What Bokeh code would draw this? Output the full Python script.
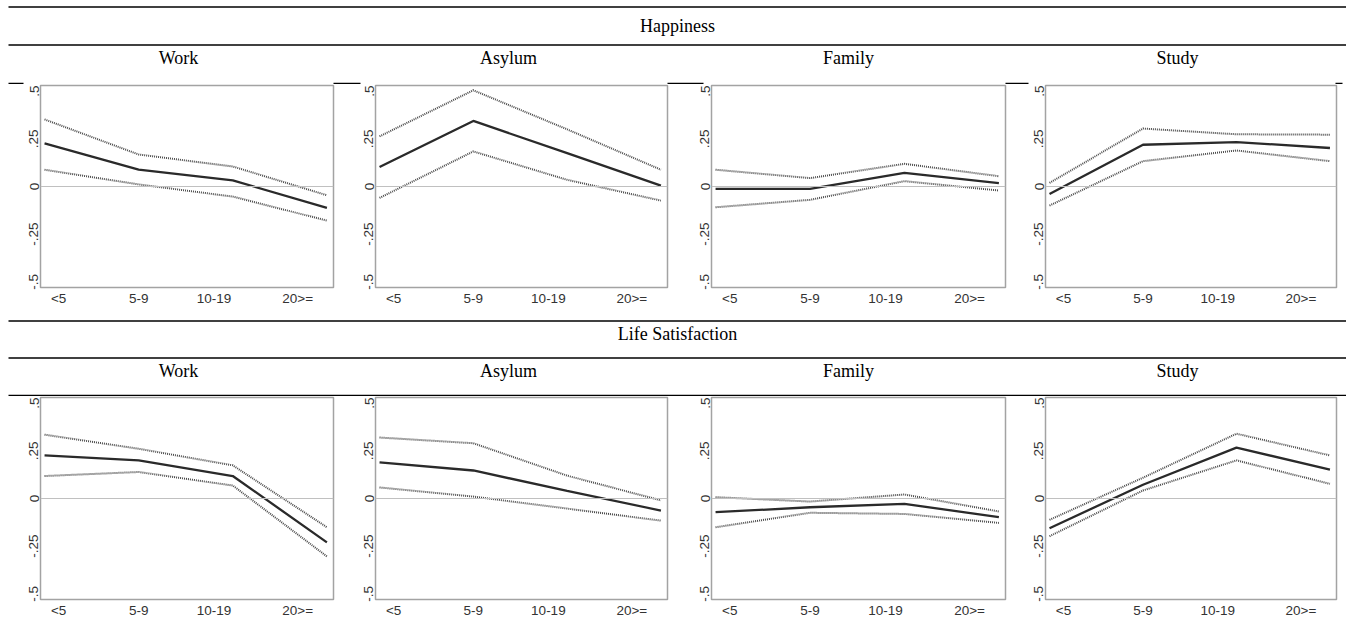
from bokeh.plotting import figure
from bokeh.layouts import column, row
from bokeh.models import Range1d, FixedTicker, Span
from bokeh.core.properties import value
from bokeh.embed import file_html
from bokeh.resources import INLINE

# ---------------- data ----------------
categories = ["<5", "5-9", "10-19", "20>="]
groups = ["Work", "Asylum", "Family", "Study"]
outcomes = ["Happiness", "Life Satisfaction"]
y_ticks = [-0.5, -0.25, 0, 0.25, 0.5]
y_tick_labels = ["-.5", "-.25", "0", ".25", ".5"]

# Happiness
hap_work_est = [0.226, 0.088, 0.032, -0.112]
hap_work_hi = [0.352, 0.168, 0.105, -0.046]
hap_work_lo = [0.088, 0.011, -0.053, -0.179]
hap_asylum_est = [0.102, 0.344, 0.175, 0.005]
hap_asylum_hi = [0.263, 0.505, 0.300, 0.088]
hap_asylum_lo = [-0.060, 0.184, 0.035, -0.074]
hap_family_est = [-0.012, -0.012, 0.072, 0.018]
hap_family_hi = [0.088, 0.044, 0.119, 0.054]
hap_family_lo = [-0.109, -0.070, 0.028, -0.021]
hap_study_est = [-0.039, 0.219, 0.233, 0.202]
hap_study_hi = [0.019, 0.304, 0.274, 0.272]
hap_study_lo = [-0.100, 0.133, 0.189, 0.133]

# Life satisfaction
ls_work_est = [0.226, 0.200, 0.118, -0.230]
ls_work_hi = [0.335, 0.261, 0.174, -0.151]
ls_work_lo = [0.118, 0.139, 0.068, -0.304]
ls_asylum_est = [0.190, 0.147, 0.040, -0.063]
ls_asylum_hi = [0.320, 0.290, 0.120, -0.010]
ls_asylum_lo = [0.058, 0.010, -0.053, -0.116]
ls_family_est = [-0.072, -0.046, -0.028, -0.098]
ls_family_hi = [0.007, -0.016, 0.021, -0.068]
ls_family_lo = [-0.151, -0.075, -0.081, -0.128]
ls_study_est = [-0.156, 0.072, 0.267, 0.151]
ls_study_hi = [-0.112, 0.109, 0.340, 0.226]
ls_study_lo = [-0.198, 0.042, 0.200, 0.077]

hap_series = [
    (hap_work_est, hap_work_lo, hap_work_hi),
    (hap_asylum_est, hap_asylum_lo, hap_asylum_hi),
    (hap_family_est, hap_family_lo, hap_family_hi),
    (hap_study_est, hap_study_lo, hap_study_hi),
]
ls_series = [
    (ls_work_est, ls_work_lo, ls_work_hi),
    (ls_asylum_est, ls_asylum_lo, ls_asylum_hi),
    (ls_family_est, ls_family_lo, ls_family_hi),
    (ls_study_est, ls_study_lo, ls_study_hi),
]

# ---------------- style / layout ----------------
X = list(range(1, len(categories) + 1))
XTICK_POS = [1.15, 2.0, 2.8, 3.69]
SANS = "Liberation Sans"
SERIF = "Liberation Serif"
PAGE_W = 1346
# (border_left, frame_width, border_right) per column
COLS = [(40, 293, 17), (25, 292, 19), (25, 294, 15), (25, 291, 10)]
TITLE_X = [178, 508, 848, 1177]


def panel(est, lo, hi, bl, fw, br, bt, fh, bb):
    p = figure(width=bl + fw + br, height=bt + fh + bb,
               x_range=Range1d(0.957, 4.07), y_range=Range1d(-0.53, 0.53),
               output_backend="svg", toolbar_location=None,
               min_border_left=bl, min_border_right=br,
               min_border_top=bt, min_border_bottom=bb)
    p.background_fill_color = "white"
    p.border_fill_color = "white"
    p.outline_line_color = "#a3a3a3"
    p.outline_line_width = 1.5
    p.xgrid.visible = False
    p.ygrid.visible = False
    p.add_layout(Span(location=0, dimension="width", line_color="#c0c0c0", line_width=1.2))
    p.line(X, hi, line_color="#4a4a4a", line_width=2.0, line_dash="1 1")
    p.line(X, lo, line_color="#4a4a4a", line_width=2.0, line_dash="1 1")
    p.line(X, est, line_color="#2a2a2a", line_width=2.3)

    xa = p.xaxis[0]
    xa.ticker = FixedTicker(ticks=XTICK_POS)
    xa.major_label_overrides = {t: c for t, c in zip(XTICK_POS, categories)}
    ya = p.yaxis[0]
    ya.ticker = FixedTicker(ticks=y_ticks)
    ya.major_label_overrides = {t: s for t, s in zip(y_ticks, y_tick_labels)}
    ya.major_label_orientation = "vertical"
    for ax in (xa, ya):
        ax.axis_line_color = None
        ax.major_tick_line_color = None
        ax.minor_tick_line_color = None
        ax.major_tick_out = 0
        ax.major_tick_in = 0
        ax.major_label_text_font = SANS
        ax.major_label_text_font_size = "13.5px"
        ax.major_label_text_color = "#333333"
    xa.major_label_standoff = 3
    ya.major_label_standoff = 2
    return p


def header(y0, y1, rules, main_title, main_y, title_y, gap_rule_y=None):
    h = figure(width=PAGE_W, height=y1 - y0,
               x_range=Range1d(0, PAGE_W), y_range=Range1d(y1, y0),
               output_backend="svg", toolbar_location=None,
               min_border=0, min_border_left=0, min_border_right=0,
               min_border_top=0, min_border_bottom=0)
    h.axis.visible = False
    h.grid.visible = False
    h.outline_line_color = None
    h.background_fill_color = "white"
    h.border_fill_color = "white"
    h.segment(x0=[8] * len(rules), y0=rules, x1=[PAGE_W] * len(rules), y1=rules,
              line_color="black", line_width=1.3)
    if gap_rule_y is not None:
        gx0 = [8, 333, 667, 1005, 1335]
        gx1 = [23, 360, 703, 1028, 1342]
        h.segment(x0=gx0, y0=[gap_rule_y] * 5, x1=gx1, y1=[gap_rule_y] * 5,
                  line_color="black", line_width=1.3)
    h.text(x=[677], y=[main_y], text=[main_title], text_font=value(SERIF),
           text_font_size="18px", text_align="center", text_baseline="middle",
           text_color="black")
    h.text(x=TITLE_X, y=[title_y] * len(groups), text=groups, text_font=value(SERIF),
           text_font_size="18px", text_align="center", text_baseline="middle",
           text_color="black")
    return h


h1 = header(0, 84, [6.5, 44.5], outcomes[0], 25, 57, gap_rule_y=83)
row1 = row(*[panel(e, l, u, bl, fw, br, 1, 202, 28)
             for (e, l, u), (bl, fw, br) in zip(hap_series, COLS)])
h2 = header(315, 396, [320.5, 357.5, 395], outcomes[1], 333, 370)
row2 = row(*[panel(e, l, u, bl, fw, br, 1, 203, 20)
             for (e, l, u), (bl, fw, br) in zip(ls_series, COLS)])

layout = column(h1, row1, h2, row2)
open("out.html", "w").write(file_html(layout, INLINE))
